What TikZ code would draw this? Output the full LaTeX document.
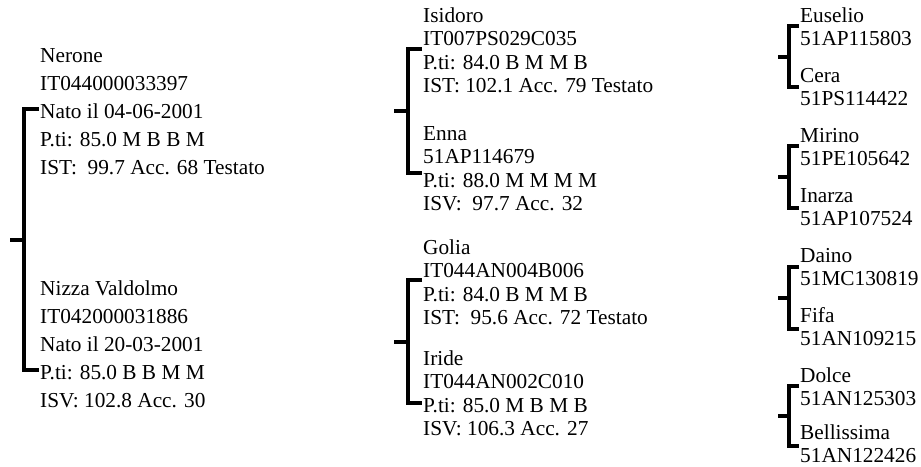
\documentclass[tikz,border=0pt]{standalone}
\usepackage{fontspec}
\setmainfont{Liberation Serif}
\newcommand\brk[6]{%
  \coordinate (#1t) at (#6,-#3);
  \coordinate (#1b) at (#6,-#4);
  \coordinate (#1p) at (#5,{-(#3+#4)/2});
  \coordinate (#1m) at (#2,{-(#3+#4)/2});
  \draw[br] (#1t) -- (#2,-#3) -- (#2,-#4) -- (#1b);
  \draw[br] (#1p) -- (#1m);
}
\begin{document}
\begin{tikzpicture}[x=1pt,y=1pt,
  br/.style={line width=4pt,line join=miter},
  txt/.style={anchor=base west,inner sep=0pt,align=left},
  colA/.style={txt,font=\fontsize{21.3}{28}\selectfont},
  colB/.style={txt,font=\fontsize{21.3}{23.5}\selectfont},
  colC/.style={txt,font=\fontsize{21.3}{23}\selectfont}]
\useasboundingbox (0,0) rectangle (921,-466);
% column 1 (anchor = baseline of last line)
\node[colA] (nerone) at (40,-174) {Nerone\\IT044000033397\\Nato il 04-06-2001\\P.ti: 85.0 M B B M\\IST:\ \ 99.7 Acc. 68 Testato};
\node[colA] (nizza) at (40,-407) {Nizza Valdolmo\\IT042000031886\\Nato il 20-03-2001\\P.ti: 85.0 B B M M\\ISV: 102.8 Acc. 30};
% column 2
\node[colB] (isidoro) at (423,-92.5) {Isidoro\\IT007PS029C035\\P.ti: 84.0 B M M B\\IST: 102.1 Acc. 79 Testato};
\node[colB] (enna) at (423,-210.5) {Enna\\51AP114679\\P.ti: 88.0 M M M M\\ISV:\ \ 97.7 Acc. 32};
\node[colB] (golia) at (423,-324.5) {Golia\\IT044AN004B006\\P.ti: 84.0 B M M B\\IST:\ \ 95.6 Acc. 72 Testato};
\node[colB] (iride) at (423,-435.5) {Iride\\IT044AN002C010\\P.ti: 85.0 M B M B\\ISV: 106.3 Acc. 27};
% column 3
\node[colC] (euselio) at (800,-45) {Euselio\\51AP115803};
\node[colC] (cera) at (800,-105) {Cera\\51PS114422};
\node[colC] (mirino) at (800,-165) {Mirino\\51PE105642};
\node[colC] (inarza) at (800,-225) {Inarza\\51AP107524};
\node[colC] (daino) at (800,-285) {Daino\\51MC130819};
\node[colC] (fifa) at (800,-345) {Fifa\\51AN109215};
\node[colC] (dolce) at (800,-405) {Dolce\\51AN125303};
\node[colC] (bellissima) at (800,-462) {Bellissima\\51AN122426};
% brackets
\brk{a}{23.5}{109}{370}{10}{39}
\brk{b}{408}{49}{173}{394}{422}
\brk{c}{408}{280}{403}{394}{422}
\brk{d}{789}{26}{87}{778}{799}
\brk{e}{789}{146}{208}{778}{799}
\brk{f}{789}{267}{329}{778}{799}
\brk{g}{789}{386}{446}{778}{799}
\end{tikzpicture}
\end{document}
